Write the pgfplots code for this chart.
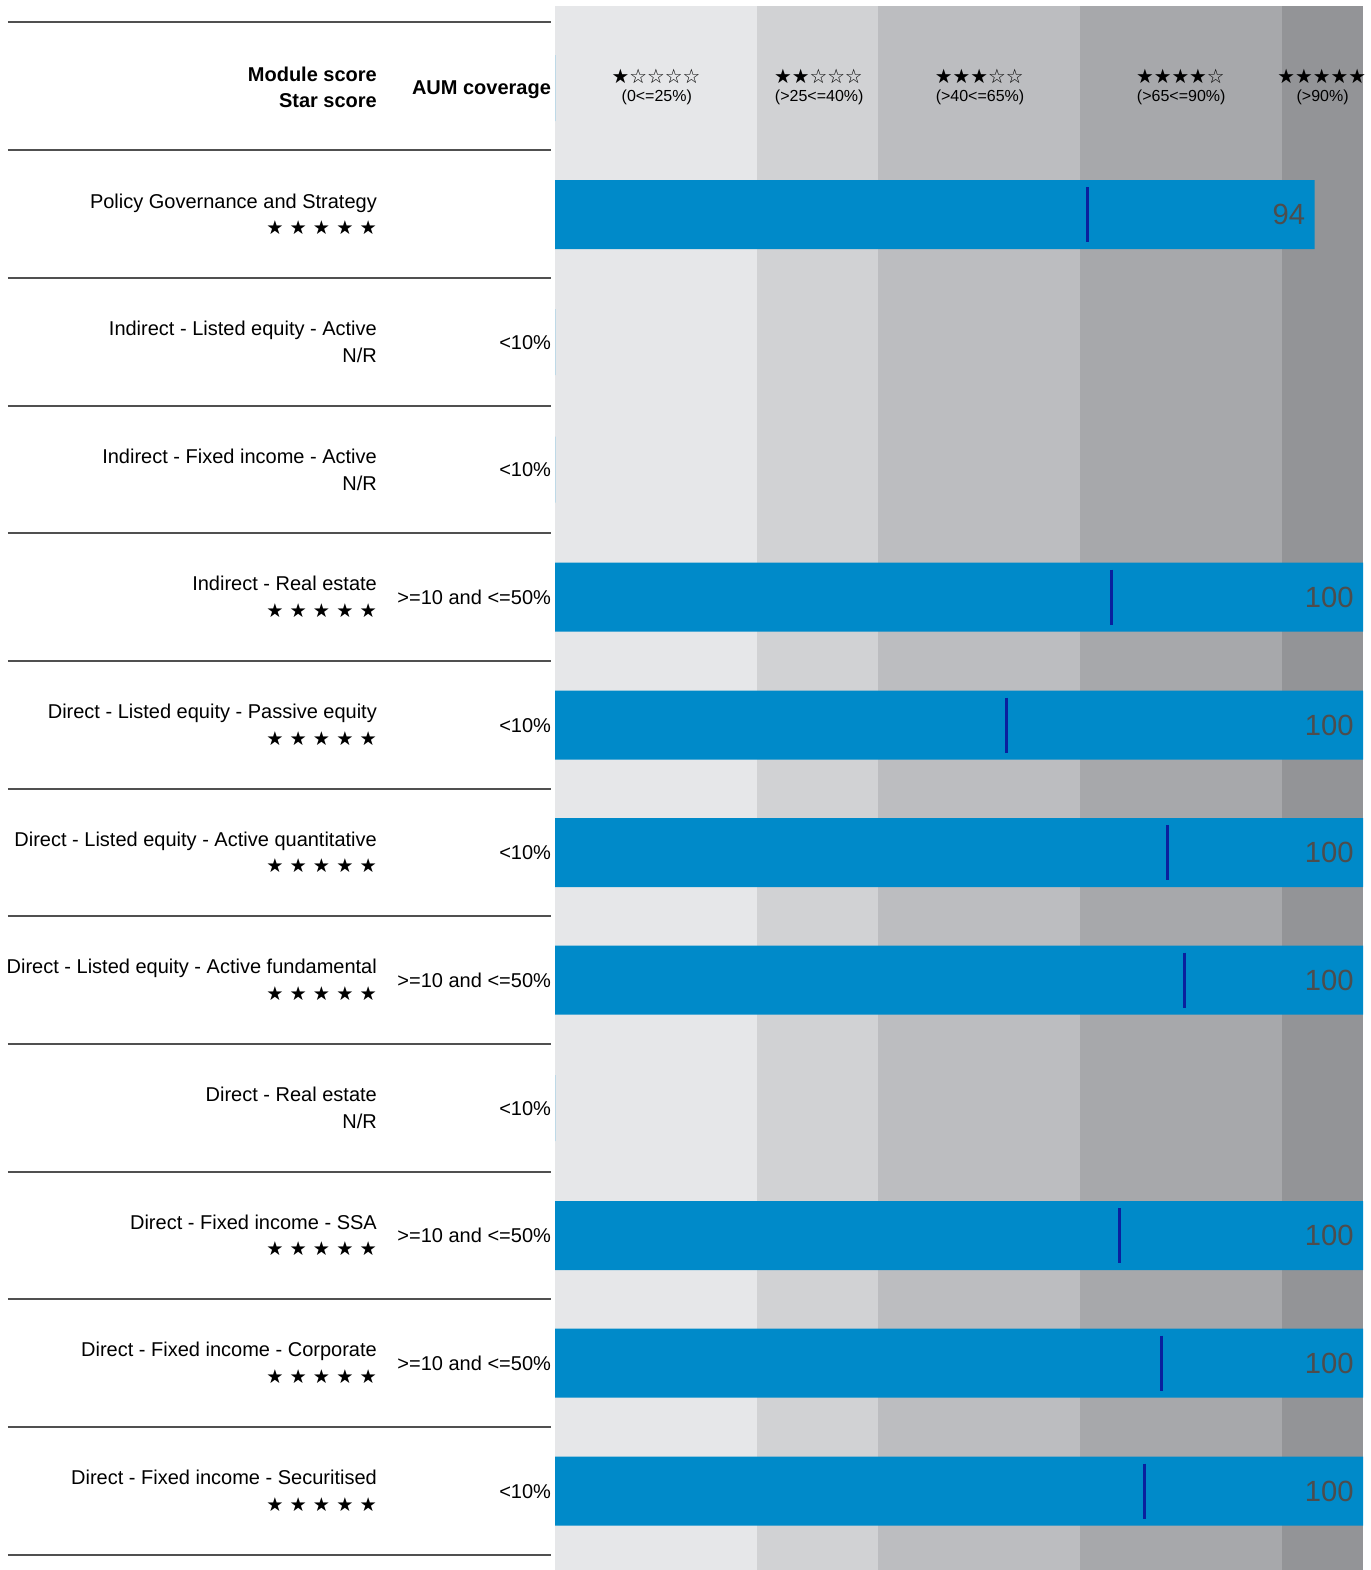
\documentclass[border=0pt]{standalone}
\usepackage{pgfplots}
\pgfplotsset{compat=1.18}
\usepackage{fontspec}
\setmainfont{Liberation Sans}
\newfontfamily\starfont{DejaVu Sans}
\definecolor{bA}{RGB}{230,231,233}
\definecolor{bB}{RGB}{209,210,212}
\definecolor{bC}{RGB}{188,189,192}
\definecolor{bD}{RGB}{167,168,171}
\definecolor{bE}{RGB}{147,148,151}
\definecolor{barblue}{RGB}{0,138,201}
\definecolor{medc}{RGB}{10,32,158}
\definecolor{valc}{RGB}{77,77,77}
\definecolor{sepc}{RGB}{80,80,80}
\definecolor{lblue}{RGB}{170,210,230}
\newcommand{\fivestars}{{\starfont\fontsize{9.6}{12}\selectfont ★ ★ ★ ★ ★}}
% row: center y, label, second line type (S = stars / N = N/R), AUM text
\newcommand{\rowtext}[4]{%
  \node[anchor=base east, inner sep=0pt] at (axis cs:-22.0,#1) [yshift=3.25pt] {#2};
  \if#3S\node[anchor=east, inner sep=0pt] at (axis cs:-22.0,#1) [yshift=-6.75pt] {\fivestars};
  \else\node[anchor=base east, inner sep=0pt] at (axis cs:-22.0,#1) [yshift=-10.25pt] {N/R};\fi
  \node[anchor=base east, inner sep=0pt] at (axis cs:-0.45,#1) [yshift=-3.5pt] {#4};
}
\begin{document}
\begin{tikzpicture}
\begin{axis}[
  width=685.5pt, height=785pt, scale only axis,
  xmin=-68.688, xmax=100.99, ymin=0, ymax=1570, y dir=reverse,
  hide axis, clip=false,
  font=\fontsize{10}{12}\selectfont,
  /pgf/number format/assume math mode=true,
]
% background bands
\addplot[fill=bA, draw=none] coordinates {(0,6) (25,6) (25,1570) (0,1570)} -- cycle;
\addplot[fill=bB, draw=none] coordinates {(25,6) (40,6) (40,1570) (25,1570)} -- cycle;
\addplot[fill=bC, draw=none] coordinates {(40,6) (65,6) (65,1570) (40,1570)} -- cycle;
\addplot[fill=bD, draw=none] coordinates {(65,6) (90,6) (90,1570) (65,1570)} -- cycle;
\addplot[fill=bE, draw=none] coordinates {(90,6) (100,6) (100,1570) (90,1570)} -- cycle;
% separators
\pgfplotsinvokeforeach{22,150,278,406,533,661,789,916,1044,1172,1299,1427,1555}{
  \draw[sepc, line width=1.1pt] (axis cs:-67.7,#1) -- (axis cs:-0.5,#1);
}
% zero-length bars (N/R rows)
\addplot[xbar, bar width=66, draw=lblue, fill=none, line width=0.5pt]
  coordinates {(0,88) (0,342) (0,469.5) (0,1108)};
% score bars
\addplot[xbar, bar width=69, fill=barblue, draw=none, point meta=x,
  nodes near coords,
  nodes near coords style={anchor=east, xshift=-4.5pt, inner sep=0pt,
    font=\fontsize{14.6}{16}\selectfont, text=valc}]
  coordinates {(94,214.5) (100,597) (100,725) (100,852.5) (100,980)
               (100,1235.5) (100,1363) (100,1491)};
% peer medians
\addplot[only marks, mark=|, mark size=13.75pt,
  mark options={line width=1.5pt, draw=medc}]
  coordinates {(65.9,214.5) (68.9,597) (55.9,725) (75.8,852.5) (77.9,980)
               (69.9,1235.5) (75.0,1363) (72.9,1491)};
% header
\node[anchor=base east, inner sep=0pt, font=\fontsize{10}{12}\selectfont\bfseries] at (axis cs:-22.0,81) {Module score};
\node[anchor=base east, inner sep=0pt, font=\fontsize{10}{12}\selectfont\bfseries] at (axis cs:-22.0,107) {Star score};
\node[anchor=base east, inner sep=0pt, font=\fontsize{10}{12}\selectfont\bfseries] at (axis cs:-0.45,94) {AUM coverage};
\node[inner sep=0pt, font=\starfont\fontsize{9.9}{11}\selectfont] at (axis cs:12.5,76) {★☆☆☆☆};
\node[inner sep=0pt, font=\starfont\fontsize{9.9}{11}\selectfont] at (axis cs:32.6,76) {★★☆☆☆};
\node[inner sep=0pt, font=\starfont\fontsize{9.9}{11}\selectfont] at (axis cs:52.5,76) {★★★☆☆};
\node[inner sep=0pt, font=\starfont\fontsize{9.9}{11}\selectfont] at (axis cs:77.4,76) {★★★★☆};
\node[inner sep=0pt, font=\starfont\fontsize{9.9}{11}\selectfont] at (axis cs:94.9,76) {★★★★★};
\node[inner sep=0pt, font=\fontsize{8}{10}\selectfont] at (axis cs:12.6,97.5) {(0<=25\%)};
\node[inner sep=0pt, font=\fontsize{8}{10}\selectfont] at (axis cs:32.7,97.5) {(>25<=40\%)};
\node[inner sep=0pt, font=\fontsize{8}{10}\selectfont] at (axis cs:52.6,97.5) {(>40<=65\%)};
\node[inner sep=0pt, font=\fontsize{8}{10}\selectfont] at (axis cs:77.5,97.5) {(>65<=90\%)};
\node[inner sep=0pt, font=\fontsize{8}{10}\selectfont] at (axis cs:95.0,97.5) {(>90\%)};
% rows
\rowtext{214.5}{Policy Governance and Strategy}{S}{}
\rowtext{342}{Indirect - Listed equity - Active}{N}{<10\%}
\rowtext{469.5}{Indirect - Fixed income - Active}{N}{<10\%}
\rowtext{597}{Indirect - Real estate}{S}{>=10 and <=50\%}
\rowtext{725}{Direct - Listed equity - Passive equity}{S}{<10\%}
\rowtext{852.5}{Direct - Listed equity - Active quantitative}{S}{<10\%}
\rowtext{980}{Direct - Listed equity - Active fundamental}{S}{>=10 and <=50\%}
\rowtext{1108}{Direct - Real estate}{N}{<10\%}
\rowtext{1235.5}{Direct - Fixed income - SSA}{S}{>=10 and <=50\%}
\rowtext{1363}{Direct - Fixed income - Corporate}{S}{>=10 and <=50\%}
\rowtext{1491}{Direct - Fixed income - Securitised}{S}{<10\%}
\end{axis}
\pgfresetboundingbox
\path[use as bounding box] (current axis.south west) rectangle (current axis.north east);
\end{tikzpicture}
\end{document}
